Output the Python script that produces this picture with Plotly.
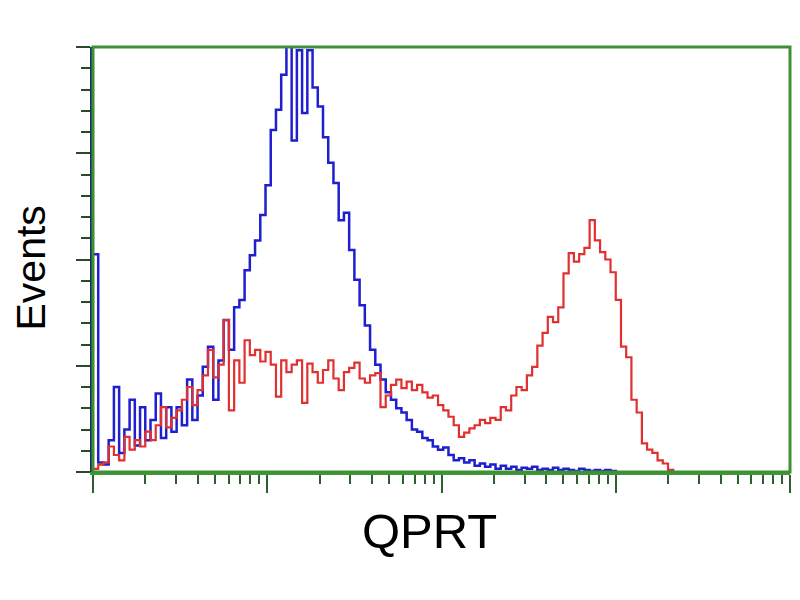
import numpy as np
import plotly.graph_objects as go

# Histogram bins: log-decade channel positions (bin width 0.03 decade)
bin_width = 0.03

blue_counts = [205, 9, 7, 30, 80, 18, 40, 68, 25, 61,
               30, 49, 74, 32, 61, 38, 61, 44, 87, 49,
               72, 99, 118, 68, 105, 143, 115, 155, 162, 190,
               204, 218, 242, 270, 322, 341, 374, 410, 312, 397,
               338, 397, 362, 344, 315, 291, 272, 237, 244, 209,
               181, 157, 138, 115, 101, 87, 75, 68, 60, 56,
               49, 40, 38, 32, 30, 24, 21, 23, 16, 11,
               13, 9, 11, 6, 8, 5, 7, 3, 6, 3,
               5, 2, 4, 3, 5, 2, 3, 2, 4, 2,
               3, 2, 1, 3, 2, 1, 2, 1, 2, 1, 0]

red_counts = [3, 7, 9, 24, 16, 11, 33, 21, 30, 24,
              38, 30, 44, 61, 42, 51, 58, 68, 80, 63,
              77, 91, 115, 89, 101, 143, 58, 105, 84, 124,
              110, 115, 104, 113, 101, 71, 105, 94, 101, 105,
              65, 102, 94, 84, 96, 105, 88, 77, 94, 98,
              103, 88, 84, 91, 93, 61, 72, 82, 87, 79,
              85, 77, 82, 75, 70, 72, 63, 58, 52, 44,
              33, 37, 41, 44, 49, 46, 51, 49, 61, 58,
              72, 80, 77, 91, 99, 119, 131, 146, 141, 155,
              187, 206, 198, 205, 211, 237, 218, 207, 200, 188,
              162, 118, 108, 68, 56, 27, 21, 18, 11, 8, 2, 0]

blue_x = np.arange(len(blue_counts)) * bin_width
red_x = np.arange(len(red_counts)) * bin_width

major_x = [0, 1, 2, 3, 4]
minor_x = [d + np.log10(k) for d in range(4) for k in range(2, 10)]

fig = go.Figure()
fig.add_trace(go.Scatter(x=blue_x, y=blue_counts, mode="lines", line_shape="hv",
                         line=dict(color="#1f1fd0", width=2.5), showlegend=False))
fig.add_trace(go.Scatter(x=red_x, y=red_counts, mode="lines", line_shape="hv",
                         line=dict(color="#e03030", width=2.2), showlegend=False))

fig.update_layout(
    width=800, height=600,
    margin=dict(l=85, r=18, t=39, b=136),
    paper_bgcolor="white", plot_bgcolor="white",
    font=dict(family="Liberation Sans, Arial, sans-serif", color="black"),
    xaxis=dict(range=[0, 4], showgrid=False, zeroline=False, showticklabels=False,
               tickmode="array", tickvals=major_x, ticks="outside", ticklen=18,
               tickwidth=2, tickcolor="#2f5f2f",
               showline=True, linecolor="#3f9a36", linewidth=3,
               minor=dict(tickmode="array", tickvals=minor_x, ticks="outside",
                          ticklen=9, tickwidth=2, tickcolor="#2f5f2f")),
    yaxis=dict(range=[0, 400], showgrid=False, zeroline=False, showticklabels=False,
               tickmode="linear", tick0=0, dtick=100, ticks="outside", ticklen=14,
               tickwidth=2, tickcolor="#2a4a2a",
               showline=True, linecolor="#1a2f5a", linewidth=3,
               minor=dict(dtick=20, ticks="outside", ticklen=9, tickwidth=2,
                          tickcolor="#2a4a2a")),
    shapes=[dict(type="rect", xref="paper", yref="paper", x0=0, x1=1, y0=0, y1=1,
                 line=dict(color="#3f8f36", width=3), layer="above")],
    annotations=[
        dict(text="Events", xref="paper", yref="paper", x=0, y=0.5, xanchor="center",
             yanchor="middle", xshift=-63, yshift=-9, textangle=-90, showarrow=False,
             font=dict(size=41, color="black")),
        dict(text="QPRT", xref="paper", yref="paper", x=0.4835, y=0, xanchor="center",
             yanchor="middle", yshift=-59, showarrow=False,
             font=dict(size=49, color="black")),
    ],
)

fig.write_html("out.html")
